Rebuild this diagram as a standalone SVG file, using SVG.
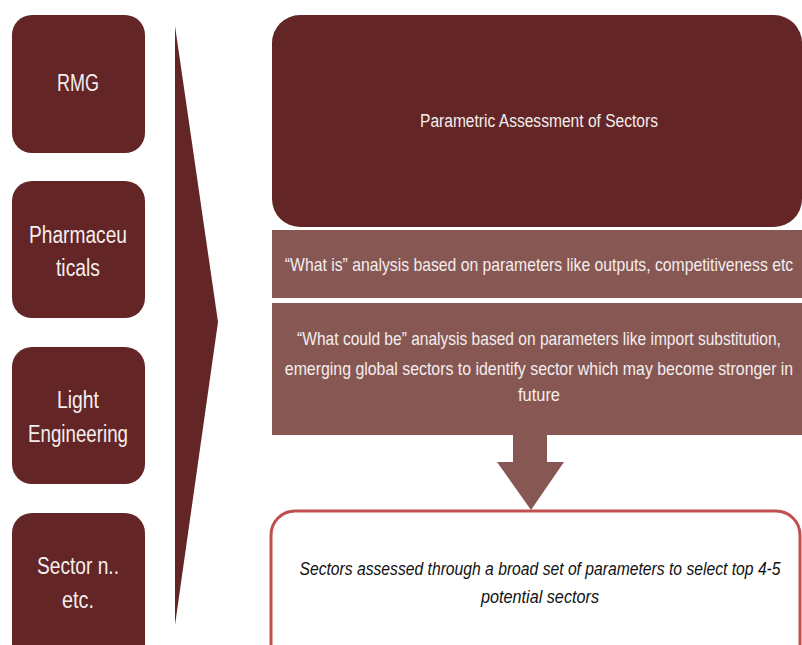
<svg xmlns="http://www.w3.org/2000/svg" width="802" height="645" viewBox="0 0 802 645">
  <style>
    .sector { fill: #632525; }
    .stage { fill: #875753; }
    .lbl { font-family: "Liberation Sans", Arial, sans-serif; fill: #f4eeee; text-anchor: middle; }
    .big { font-size: 23px; }
    .mid { font-size: 18px; }
    .note { font-family: "Liberation Sans", Arial, sans-serif; font-size: 18px; font-style: italic; fill: #111; text-anchor: middle; }
  </style>

  <!-- sector list -->
  <g id="sector-rmg">
    <rect class="sector" x="12" y="15" width="133" height="138" rx="20"/>
    <text class="lbl big" x="78" y="91" textLength="42" lengthAdjust="spacingAndGlyphs">RMG</text>
  </g>
  <g id="sector-pharma">
    <rect class="sector" x="12" y="181" width="133" height="137" rx="20"/>
    <text class="lbl big" x="78" y="243" textLength="98" lengthAdjust="spacingAndGlyphs">Pharmaceu</text>
    <text class="lbl big" x="78" y="276" textLength="44" lengthAdjust="spacingAndGlyphs">ticals</text>
  </g>
  <g id="sector-light">
    <rect class="sector" x="12" y="347" width="133" height="137" rx="20"/>
    <text class="lbl big" x="78" y="408" textLength="42" lengthAdjust="spacingAndGlyphs">Light</text>
    <text class="lbl big" x="78" y="442" textLength="100" lengthAdjust="spacingAndGlyphs">Engineering</text>
  </g>
  <g id="sector-n">
    <rect class="sector" x="12" y="513" width="133" height="160" rx="20"/>
    <text class="lbl big" x="78" y="574" textLength="82" lengthAdjust="spacingAndGlyphs">Sector n..</text>
    <text class="lbl big" x="78" y="608" textLength="32" lengthAdjust="spacingAndGlyphs">etc.</text>
  </g>

  <!-- connectors -->
  <g id="connectors">
    <polygon id="funnel" class="sector" points="175,26 218,322 175,625"/>
    <polygon id="down-arrow" class="stage" points="513,435 547,435 547,462 564,462 531,510 497,462 513,462"/>
  </g>

  <!-- assessment stages; long lines are condensed horizontally -->
  <g id="assessment">
    <rect class="sector" x="272" y="15" width="530" height="212" rx="28"/>
    <text class="lbl mid" x="539" y="127" textLength="238" lengthAdjust="spacingAndGlyphs">Parametric Assessment of Sectors</text>
  </g>
  <g id="what-is">
    <rect class="stage" x="272" y="230" width="530" height="68"/>
    <g transform="translate(539,271) scale(0.82,1)">
      <text class="lbl mid" x="0" y="0" textLength="620" lengthAdjust="spacingAndGlyphs">“What is” analysis based on parameters like outputs,  competitiveness etc</text>
    </g>
  </g>
  <g id="what-could-be">
    <rect class="stage" x="272" y="303" width="530" height="132"/>
    <g transform="translate(539,345) scale(0.82,1)">
      <text class="lbl mid" x="0" y="0" textLength="590" lengthAdjust="spacingAndGlyphs">“What could be” analysis based on parameters like import substitution,</text>
    </g>
    <g transform="translate(539,375) scale(0.82,1)">
      <text class="lbl mid" x="0" y="0" textLength="620" lengthAdjust="spacingAndGlyphs">emerging global sectors to identify sector which may become stronger in</text>
    </g>
    <text class="lbl mid" x="539" y="401" textLength="42" lengthAdjust="spacingAndGlyphs">future</text>
  </g>
  <g id="result">
    <rect x="271" y="511" width="529" height="160" rx="24" fill="#ffffff" stroke="#c0504d" stroke-width="3"/>
    <g transform="translate(540,575) scale(0.85,1)">
      <text class="note" x="0" y="0" textLength="566" lengthAdjust="spacingAndGlyphs">Sectors assessed through  a broad set of parameters to select top 4-5</text>
    </g>
    <text class="note" x="540" y="603" textLength="118" lengthAdjust="spacingAndGlyphs">potential sectors</text>
  </g>
</svg>
